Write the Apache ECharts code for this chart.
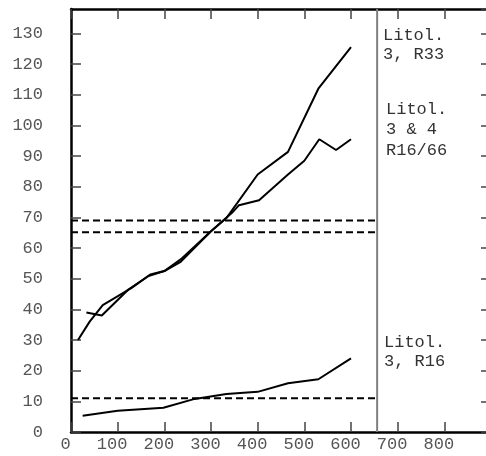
<!DOCTYPE html>
<html>
<head>
<meta charset="utf-8">
<script src="https://cdn.jsdelivr.net/npm/echarts@6/dist/echarts.min.js"></script>
<style>
  html, body { margin: 0; padding: 0; background: #fff; overflow: hidden; }
  #chart { width: 500px; height: 456px; }
</style>
</head>
<body>
<div id="chart"></div>
<script>
// Growth curves (x = distance, y = value)
const r33X = [15, 40, 68, 130, 170, 200, 235, 300, 333, 400, 465, 530, 600];
const r33Y = [30, 36, 41.4, 47, 51.4, 52.5, 56.3, 65.5, 69.8, 84, 91.4, 112, 125.6];

const r1666X = [33, 66, 123, 166, 200, 235, 300, 345, 360, 403, 465, 500, 532, 568, 600];
const r1666Y = [39, 38, 46.5, 50.9, 52.5, 55.5, 65.5, 71.5, 74, 75.6, 84, 88.5, 95.5, 92, 95.5];

const r16X = [25, 100, 198, 265, 333, 400, 465, 530, 600];
const r16Y = [5.3, 6.9, 7.9, 10.8, 12.4, 13.1, 15.9, 17.2, 24];

// Horizontal reference levels and the section divider
const levels = [69, 65.2, 11];
const levelStart = 0;
const dividerX = 656;

// Axis ranges
const xMin = 0, xMax = 900, xStep = 100;
const yMin = 0, yMax = 138, yStep = 10;

const labelTexts = ['Litol.\n3, R33', 'Litol.\n3 & 4\nR16/66', 'Litol.\n3, R16'];

const pairs = (xs, ys) => xs.map((x, i) => [x, ys[i]]);
const mono = "'Liberation Mono', 'Courier New', monospace";

const curveStyle = { color: '#000', width: 2 };
const series = [
  { type: 'line', data: pairs(r33X, r33Y), showSymbol: false, lineStyle: curveStyle, z: 5 },
  { type: 'line', data: pairs(r1666X, r1666Y), showSymbol: false, lineStyle: curveStyle, z: 5 },
  { type: 'line', data: pairs(r16X, r16Y), showSymbol: false, lineStyle: curveStyle, z: 5 }
];
levels.forEach(v => {
  series.push({
    type: 'line',
    data: [[levelStart, v], [dividerX, v]],
    showSymbol: false,
    lineStyle: { color: '#000', width: 2, type: [7, 4] },
    z: 4
  });
});
series.push({
  type: 'line',
  data: [[dividerX, yMin], [dividerX, yMax]],
  showSymbol: false,
  lineStyle: { color: '#808080', width: 2 },
  z: 3
});

const tickStyle = { color: '#444', width: 1.5 };

const chart = echarts.init(document.getElementById('chart'), null, { renderer: 'canvas' });
chart.setOption({
  animation: false,
  backgroundColor: '#fff',
  grid: { left: 71, top: 9, width: 420, bottom: 24, containLabel: false },
  xAxis: [
    {
      type: 'value', min: xMin, max: xMax, interval: xStep, position: 'bottom',
      axisLine: { show: true, onZero: false, lineStyle: { color: '#000', width: 2.5 } },
      axisTick: { show: true, inside: true, length: 10, lineStyle: tickStyle },
      axisLabel: { show: true, color: '#555', fontFamily: mono, fontSize: 17, margin: 4, showMaxLabel: false, padding: [0, 11, 0, 0] },
      splitLine: { show: false }
    },
    {
      type: 'value', min: xMin, max: xMax, interval: xStep, position: 'top',
      axisLine: { show: true, onZero: false, lineStyle: { color: '#000', width: 2.5 } },
      axisTick: { show: true, inside: true, length: 10, lineStyle: tickStyle },
      axisLabel: { show: false },
      splitLine: { show: false }
    }
  ],
  yAxis: [
    {
      type: 'value', min: yMin, max: yMax, interval: yStep, position: 'left',
      axisLine: { show: true, onZero: false, lineStyle: { color: '#000', width: 2.5 } },
      axisTick: { show: true, inside: true, length: 10, lineStyle: tickStyle },
      axisLabel: { show: true, color: '#555', fontFamily: mono, fontSize: 17, margin: 28, showMaxLabel: false },
      splitLine: { show: false }
    },
    {
      type: 'value', min: yMin, max: yMax, interval: yStep, position: 'right',
      axisLine: { show: true, onZero: false, lineStyle: { color: '#000', width: 2.5 } },
      axisTick: { show: true, inside: true, length: 10, lineStyle: tickStyle },
      axisLabel: { show: false },
      splitLine: { show: false }
    }
  ],
  graphic: [
    { type: 'text', left: 383, top: 26, style: { text: labelTexts[0], font: '17px ' + mono, fill: '#333', lineHeight: 19 } },
    { type: 'text', left: 386, top: 99, style: { text: labelTexts[1], font: '17px ' + mono, fill: '#333', lineHeight: 20.5 } },
    { type: 'text', left: 384, top: 333, style: { text: labelTexts[2], font: '17px ' + mono, fill: '#333', lineHeight: 19 } }
  ],
  series: series
});
</script>
</body>
</html>
